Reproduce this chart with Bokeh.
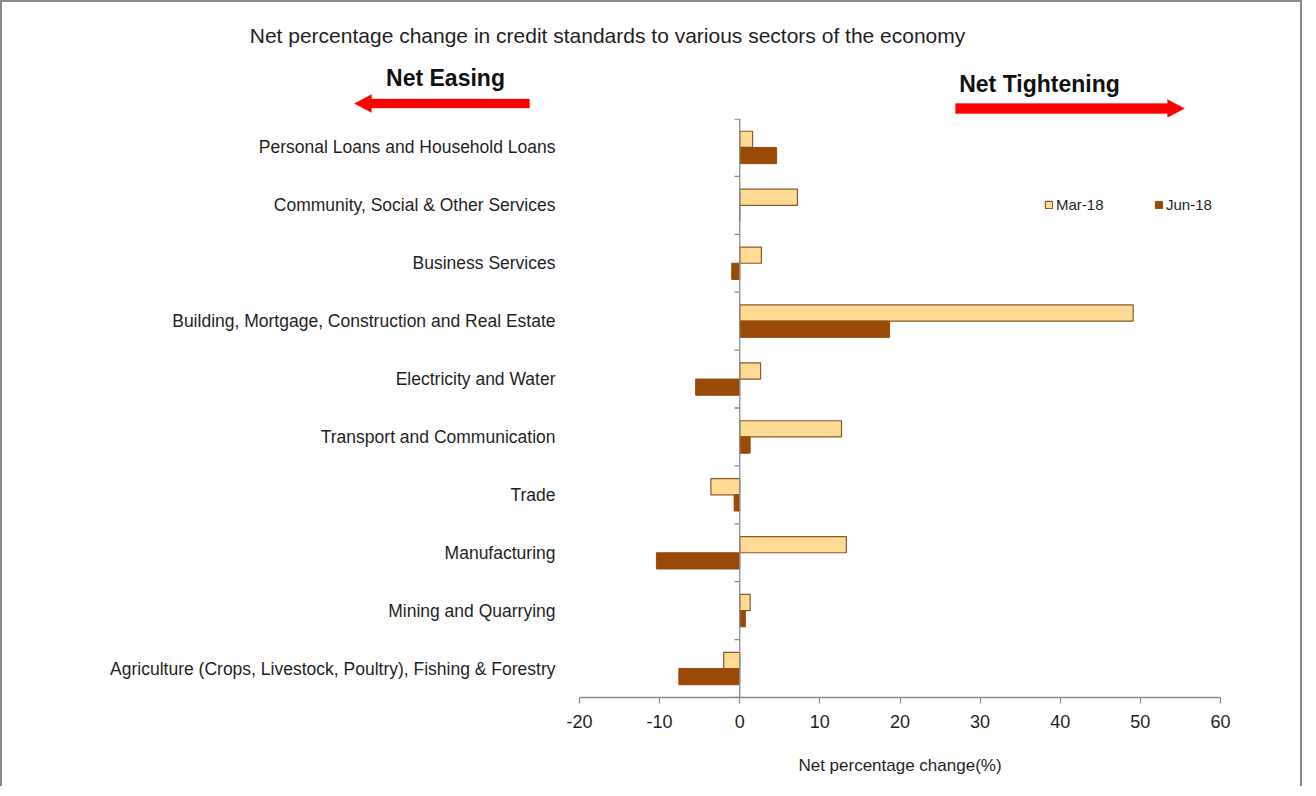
from bokeh.plotting import figure
from bokeh.layouts import column
from bokeh.models import (ColumnDataSource, FactorRange, Range1d, Span, Label, PolyAnnotation,
                          Legend, LegendItem, FixedTicker)
from bokeh.transform import dodge
from bokeh.embed import file_html
from bokeh.resources import INLINE

# ---- data (top to bottom as in the chart) ----
categories = [
    "Personal Loans and Household Loans",
    "Community, Social & Other Services",
    "Business Services",
    "Building, Mortgage, Construction and Real Estate",
    "Electricity and Water",
    "Transport and Communication",
    "Trade",
    "Manufacturing",
    "Mining and Quarrying",
    "Agriculture (Crops, Livestock, Poultry), Fishing & Forestry",
]
mar_18 = [1.6, 7.2, 2.7, 49.1, 2.6, 12.7, -3.6, 13.3, 1.3, -2.0]
jun_18 = [4.6, 0.0, -1.0, 18.7, -5.5, 1.3, -0.7, -10.4, 0.7, -7.6]
x_ticks = [-20, -10, 0, 10, 20, 30, 40, 50, 60]
x_tick_labels = ["-20", "-10", "0", "10", "20", "30", "40", "50", "60"]
series_names = ["Mar-18", "Jun-18"]

title_text = "Net percentage change in credit standards to various sectors of the economy"
x_label = "Net percentage change(%)"
easing_text = "Net Easing"
tightening_text = "Net Tightening"

FONT = "Liberation Sans"
TXT = "#1f1f1f"
MAR_FILL, MAR_LINE = "#FFDA94", "#8A5A2C"
JUN_FILL = "#994A07"
AXIS_GREY = "#8c8c8c"
W = 1298

# ---------------- header (title, easing/tightening arrows) ----------------
head = figure(width=W, height=115, x_range=Range1d(0, 1), y_range=Range1d(0, 1),
              x_axis_type=None, y_axis_type=None, output_backend="svg", toolbar_location=None,
              min_border=0, title=None)
head.frame_align = False
head.outline_line_color = None
head.xgrid.grid_line_color = None
head.ygrid.grid_line_color = None

head.add_layout(Label(x=605, y=82, x_units="screen", y_units="screen", text=title_text,
                      text_align="center", text_baseline="middle", text_font=FONT,
                      text_font_size="21px", text_color=TXT))
head.add_layout(Label(x=443, y=40, x_units="screen", y_units="screen", text=easing_text,
                      text_align="center", text_baseline="middle", text_font=FONT,
                      text_font_style="bold", text_font_size="23px", text_color="#111111"))
head.add_layout(Label(x=1037, y=34, x_units="screen", y_units="screen", text=tightening_text,
                      text_align="center", text_baseline="middle", text_font=FONT,
                      text_font_style="bold", text_font_size="23px", text_color="#111111"))
# left-pointing red arrow
head.add_layout(PolyAnnotation(xs=[527, 369, 369, 352, 369, 369, 527],
                               ys=[18.5, 18.5, 23, 14, 5, 9.5, 9.5],
                               xs_units="screen", ys_units="screen",
                               fill_color="red", fill_alpha=1, line_color="red", line_width=1,
                               line_join="round"))
# right-pointing red arrow
head.add_layout(PolyAnnotation(xs=[953, 1165, 1165, 1182, 1165, 1165, 953],
                               ys=[14, 14, 18, 9, 0, 4, 4],
                               xs_units="screen", ys_units="screen",
                               fill_color="red", fill_alpha=1, line_color="red", line_width=1,
                               line_join="round"))

# ---------------- main bar chart ----------------
src = ColumnDataSource(dict(cat=categories, mar=mar_18, jun=jun_18))

y_range = FactorRange(factors=list(reversed(categories)), range_padding=0)
p = figure(width=W, height=669, y_range=y_range, x_range=Range1d(x_ticks[0], x_ticks[-1]),
           output_backend="svg", toolbar_location=None, title=None,
           min_border_left=577, min_border_right=80, min_border_top=1, min_border_bottom=89)
p.frame_align = False
p.outline_line_color = None
p.xgrid.grid_line_color = None
p.ygrid.grid_line_color = None

bar_h = 0.28
r_mar = p.hbar(y=dodge("cat", bar_h / 2, range=p.y_range), left=0, right="mar", height=bar_h,
               source=src, fill_color=MAR_FILL, line_color=MAR_LINE, line_width=1.2)
r_jun = p.hbar(y=dodge("cat", -bar_h / 2, range=p.y_range), left=0, right="jun", height=bar_h,
               source=src, fill_color=JUN_FILL, line_color=JUN_FILL, line_width=1)

# vertical axis line at zero with category-boundary ticks
p.add_layout(Span(location=0, dimension="height", line_color=AXIS_GREY, line_width=1.3))
tick_src = ColumnDataSource(dict(cat=categories))
p.segment(x0=-0.65, x1=0, y0=dodge("cat", -0.5, range=p.y_range), y1=dodge("cat", -0.5, range=p.y_range),
          source=tick_src, line_color=AXIS_GREY, line_width=1.3)
p.segment(x0=-0.65, x1=0, y0=dodge("cat", 0.49, range=p.y_range), y1=dodge("cat", 0.49, range=p.y_range),
          source=ColumnDataSource(dict(cat=categories[:1])), line_color=AXIS_GREY, line_width=1.3)

# x axis
xa = p.xaxis[0]
xa.ticker = FixedTicker(ticks=x_ticks)
xa.major_label_overrides = {t: lab for t, lab in zip(x_ticks, x_tick_labels)}
xa.axis_line_color = AXIS_GREY
xa.axis_line_width = 1.3
xa.major_tick_line_color = AXIS_GREY
xa.major_tick_line_width = 1.3
xa.major_tick_out = 6
xa.major_tick_in = 0
xa.minor_tick_line_color = None
xa.major_label_text_font = FONT
xa.major_label_text_font_size = "18px"
xa.major_label_text_color = TXT
xa.major_label_standoff = 11
xa.axis_label = x_label
xa.axis_label_text_font = FONT
xa.axis_label_text_font_style = "normal"
xa.axis_label_text_font_size = "17px"
xa.axis_label_text_color = TXT
xa.axis_label_standoff = 25

# y axis (category labels)
ya = p.yaxis[0]
ya.axis_line_color = None
ya.major_tick_line_color = None
ya.minor_tick_line_color = None
ya.major_label_text_font = FONT
ya.major_label_text_font_size = "17.5px"
ya.major_label_text_color = TXT
ya.major_label_standoff = 18

# legend
legend = Legend(items=[LegendItem(label=series_names[0], renderers=[r_mar]),
                       LegendItem(label=series_names[1], renderers=[r_jun])],
                orientation="horizontal", location=(465, 484),
                border_line_color=None, background_fill_alpha=0,
                glyph_width=9, glyph_height=9, label_standoff=3, spacing=0,
                label_width=98, padding=0, margin=0,
                label_text_font=FONT, label_text_font_size="15px", label_text_color=TXT)
p.add_layout(legend, "center")

layout = column(head, p, spacing=0,
                styles={"border-top": "2px solid #8a8a8a", "border-left": "2px solid #8a8a8a",
                        "border-right": "2px solid #8a8a8a"})

open("out.html", "w").write(file_html(layout, INLINE))
